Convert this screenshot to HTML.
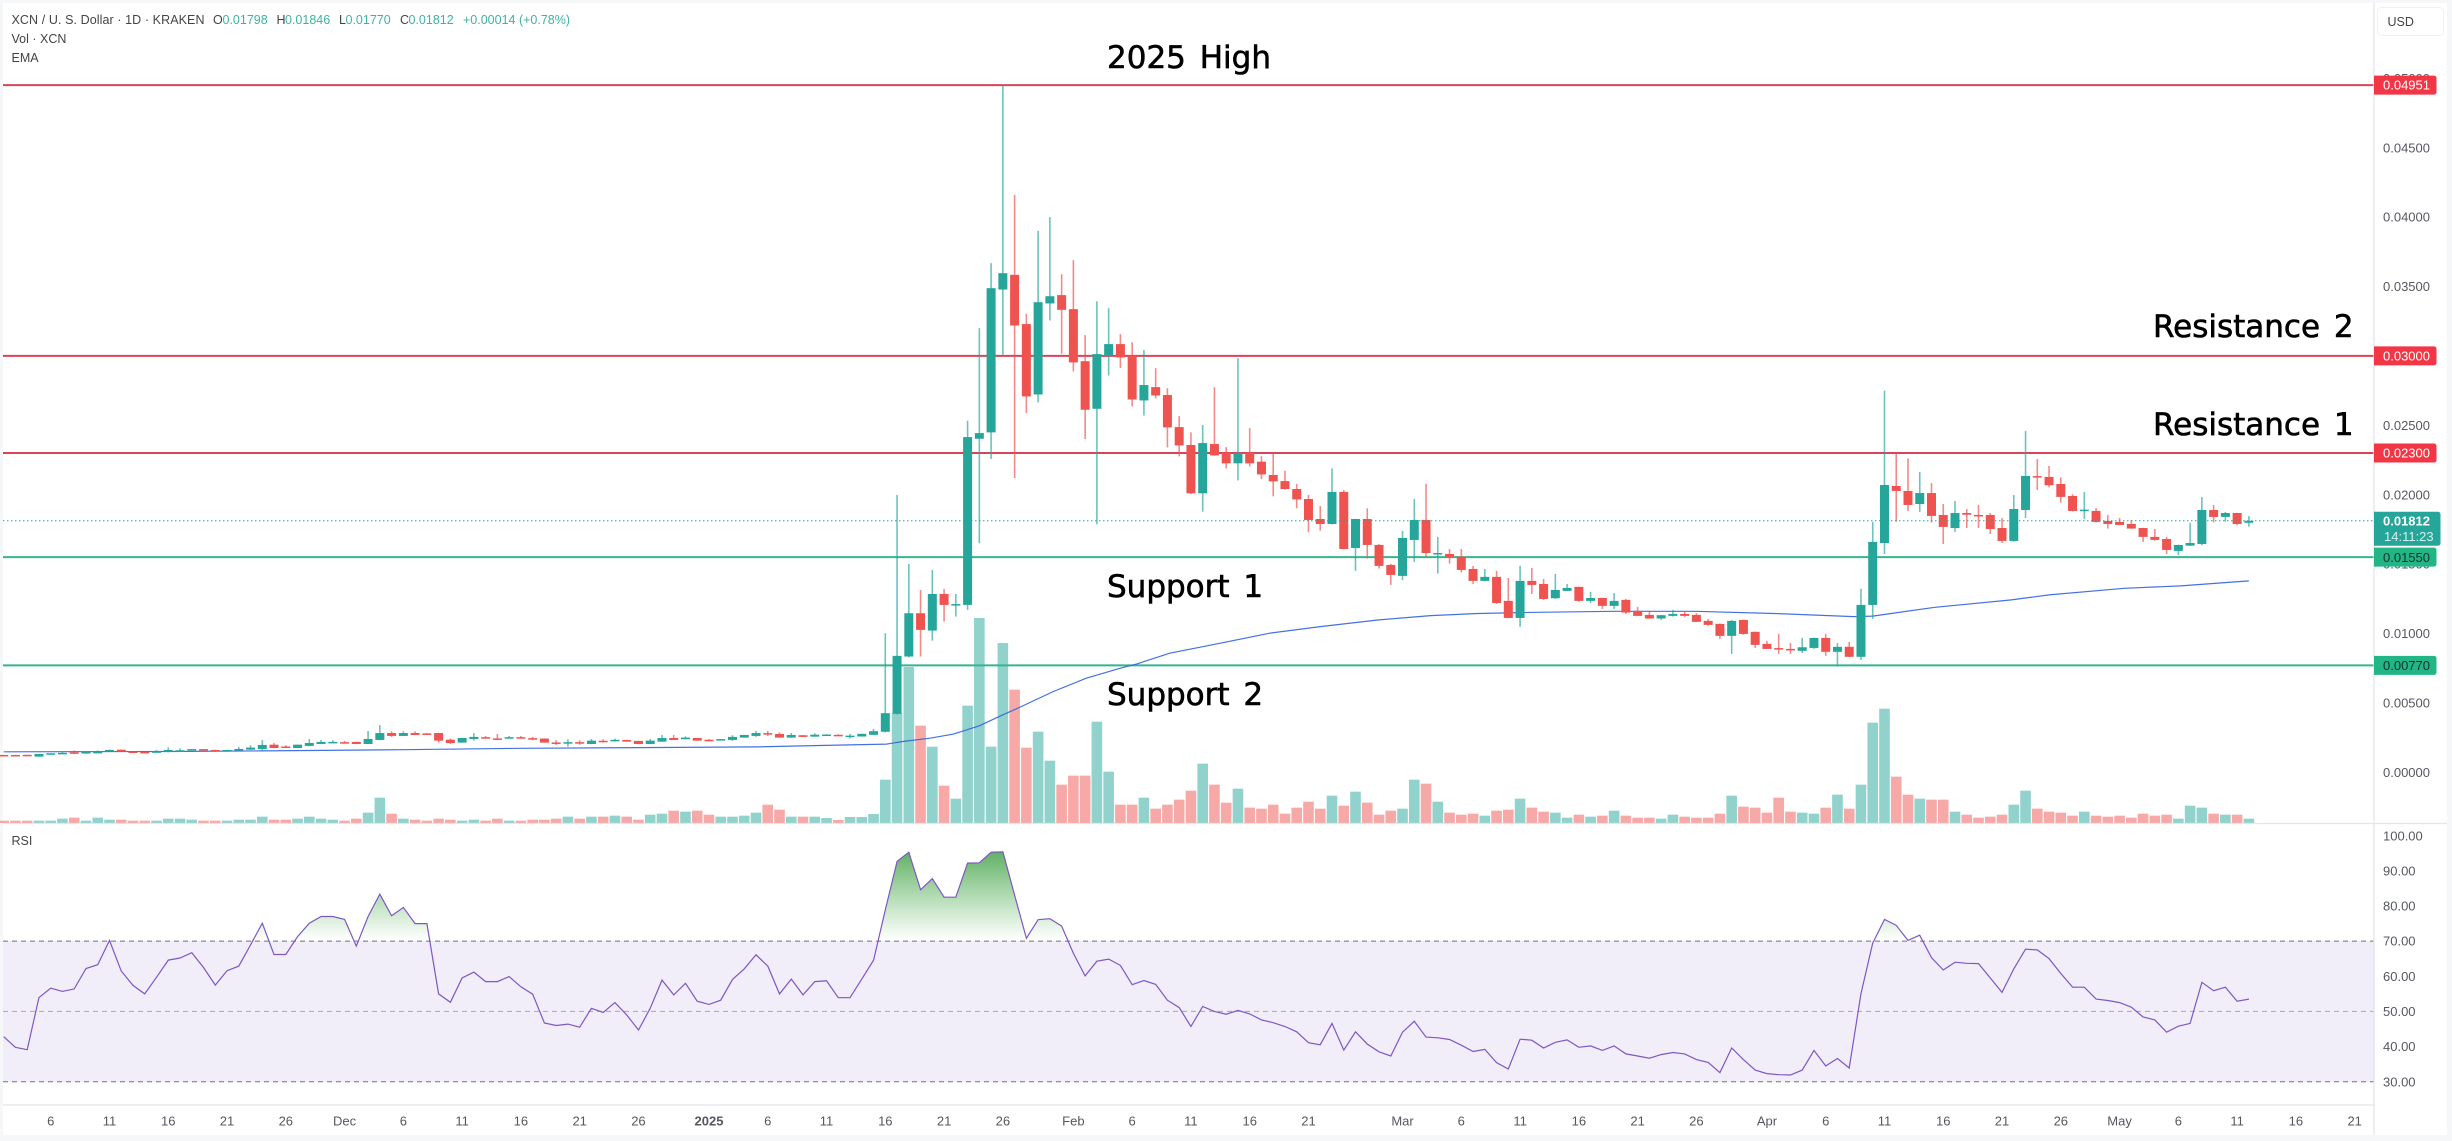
<!DOCTYPE html>
<html lang="en">
<head>
<meta charset="utf-8">
<title>XCN / U.S. Dollar chart</title>
<style>
html,body{margin:0;padding:0;background:#f6f7f9;width:2452px;height:1141px;overflow:hidden}
svg{display:block;font-family:"Liberation Sans",sans-serif}
.note{font-family:"DejaVu Sans",sans-serif;font-size:31px;fill:#000;stroke:#000;stroke-width:.6px;word-spacing:4px}
.leg{font-size:12.5px;fill:#444}
.val{font-size:12.5px;fill:#3fb2a3}
.tick{font-size:13px;fill:#55585f}
</style>
</head>
<body>
<svg id="chart" xmlns="http://www.w3.org/2000/svg" width="2452" height="1141" viewBox="0 0 2452 1141">
  <defs>
    <linearGradient id="obGrad" gradientUnits="userSpaceOnUse" x1="0" y1="836" x2="0" y2="940">
      <stop offset="0" stop-color="#43a047" stop-opacity="1"/>
      <stop offset="1" stop-color="#4caf50" stop-opacity="0"/>
    </linearGradient>
    <clipPath id="obClip"><rect x="3" y="824" width="2371" height="116.3"/></clipPath>
  </defs>
  <rect x="3" y="3" width="2444" height="1132" fill="#ffffff"/>
  <g id="volumeLayer"></g>
  <g id="levelLayer"></g>
  <path id="emaLine" fill="none" stroke="#2f62e0" stroke-width="1.2" stroke-opacity=".9"/>
  <g id="candleLayer"></g>
  <line id="lastLine" x1="3" x2="2374" stroke="#26a69a" stroke-width="1" stroke-dasharray="1.5 2.5"/>
  <g>
    <text class="leg" x="11.5" y="24" textLength="193">XCN / U. S. Dollar · 1D · KRAKEN</text>
    <text class="leg" x="213" y="24">O</text>
    <text class="val" x="222.5" y="24">0.01798</text>
    <text class="leg" x="276.5" y="24">H</text>
    <text class="val" x="285" y="24">0.01846</text>
    <text class="leg" x="339" y="24">L</text>
    <text class="val" x="345.5" y="24">0.01770</text>
    <text class="leg" x="400" y="24">C</text>
    <text class="val" x="408.5" y="24">0.01812</text>
    <text class="val" x="463" y="24">+0.00014 (+0.78%)</text>
    <text class="leg" x="11.5" y="43">Vol · XCN</text>
    <text class="leg" x="11.5" y="62">EMA</text>
  </g>
  <text class="note" x="1107" y="68">2025 High</text>
  <text class="note" x="2153" y="337">Resistance 2</text>
  <text class="note" x="2153" y="435">Resistance 1</text>
  <text class="note" x="1107" y="597">Support 1</text>
  <text class="note" x="1107" y="705">Support 2</text>

  <g>
    <rect id="rsiBand" x="3" width="2371" fill="#f2eef9"/>
    <line id="rsi70" x1="3" x2="2374" stroke="#6f727c" stroke-width="1" stroke-dasharray="5 4"/>
    <line id="rsi50" x1="3" x2="2374" stroke="#a8a6b0" stroke-width="1" stroke-dasharray="5 4"/>
    <line id="rsi30" x1="3" x2="2374" stroke="#6f727c" stroke-width="1" stroke-dasharray="5 4"/>
    <path id="rsiFill" fill="url(#obGrad)" clip-path="url(#obClip)"/>
    <path id="rsiLine" fill="none" stroke="#7e57c2" stroke-width="1.2"/>
    <text class="leg" x="11.5" y="845">RSI</text>
  </g>

  <g>
    <line x1="2374" x2="2374" y1="3" y2="1135" stroke="#e0e3eb" stroke-width="1.2"/>
    <line x1="3" x2="2447" y1="823.5" y2="823.5" stroke="#e4e6ec" stroke-width="1.2"/>
    <line x1="3" x2="2374" y1="1105" y2="1105" stroke="#e0e3eb" stroke-width="1.2"/>
  </g>
  <g id="priceAxis"></g>
  <g id="rsiAxis"></g>
  <g id="timeAxis"></g>
  <g id="tagLayer"></g>
  <g>
    <path id="lastTagBox" fill="#26a69a"/>
    <text id="lastTagValue" x="2383" font-size="13" font-weight="bold" fill="#ffffff">0.01812</text>
    <text id="lastTagTime" x="2384" font-size="13" fill="#d5f0ec">14:11:23</text>
  </g>
  <g>
    <rect x="2377.5" y="7.5" width="66" height="28" rx="4" fill="#fff" stroke="#f0f1f4"/>
    <text x="2387.5" y="26" font-size="12.5" fill="#444">USD</text>
  </g>
</svg>
<script>
// Daily candles start on 2 Nov 2024 (day index -4 relative to 6 Nov). Prices in units of 0.00001 USD.
const firstDay = -4;
const opens = [
125,125,126,113,135,137,144,135,144,149,
163,150,147,148,149,149,165,167,161,149,
165,163,168,199,186,175,190,204,217,217,
219,204,233,283,262,283,280,283,235,214,
240,253,244,251,253,246,243,215,215,217,
204,227,232,233,226,204,221,247,238,247,
234,237,233,250,262,282,276,250,267,257,
269,270,262,258,270,292,421,834,1146,1021,
1285,1208,1206,2403,2449,3478,3584,3229,2722,3378,
3438,3337,2962,2619,3001,3085,3001,2679,2775,2718,
2487,2358,2010,2365,2302,2226,2302,2238,2142,2098,
2041,1969,1825,1789,2020,1616,1825,1638,1494,1415,
1674,1818,1576,1573,1554,1465,1379,1408,1235,1112,
1379,1357,1254,1307,1336,1235,1256,1199,1242,1163,
1134,1108,1127,1141,1134,1091,1069,983,1098,1012,
925,895,889,875,896,968,868,904,832,1206,
1652,2063,2027,1933,2012,1854,1760,1868,1854,1854,
1760,1667,1890,2134,2128,2077,1991,1888,1883,1811,
1804,1789,1760,1696,1681,1595,1633,1645,1890,1840,
1868,1798];
const highs = [
126,126,127,133,137,151,158,150,159,163,
164,151,148,161,180,173,168,168,163,163,
183,195,233,211,195,200,240,233,231,226,
220,298,341,295,295,295,283,284,243,248,
283,262,276,262,262,255,244,231,238,231,
240,238,243,234,227,240,269,269,259,248,
240,240,267,270,298,298,288,283,268,281,
275,274,277,278,313,1002,1998,1501,1314,1458,
1321,1285,2533,3200,3668,4951,4160,3303,3901,4000,
3589,3690,3150,3394,3344,3157,3099,3042,2912,2768,
2566,2449,2502,2775,2343,2984,2480,2278,2300,2173,
2077,1998,1919,2190,2034,1827,1902,1645,1501,1739,
1969,2077,1696,1609,1609,1487,1465,1451,1400,1487,
1472,1393,1429,1357,1338,1300,1258,1292,1249,1192,
1163,1134,1170,1156,1146,1105,1072,1098,1100,1014,
947,997,932,968,970,997,932,940,1321,1804,
2750,2298,2262,2164,2084,1933,1955,1897,1926,1868,
1832,1998,2459,2257,2207,2125,2003,2020,1904,1854,
1832,1818,1762,1753,1696,1640,1796,1984,1926,1876,
1870,1846];
const lows = [
124,124,124,112,134,132,132,134,139,148,
148,147,143,144,144,148,164,164,148,148,
161,161,156,173,178,174,188,203,216,209,
203,203,232,255,261,268,277,214,204,213,
228,243,241,243,243,231,213,197,185,199,
203,216,221,220,203,203,220,232,237,227,
226,236,226,249,255,262,249,249,254,256,
268,265,244,257,268,287,416,827,834,949,
1086,1122,1170,1650,2257,3008,2120,2588,2665,3255,
3015,2888,2401,1787,2859,2912,2636,2571,2694,2341,
2276,2004,1878,2281,2190,2103,2204,2113,1988,2036,
1902,1729,1741,1785,1605,1451,1540,1468,1350,1386,
1516,1554,1432,1504,1439,1357,1377,1213,1110,1048,
1285,1242,1249,1305,1228,1220,1177,1177,1141,1125,
1106,1098,1122,1120,1082,1055,961,853,990,896,
887,853,853,860,889,839,762,830,810,1105,
1573,1804,1883,1876,1799,1645,1732,1760,1760,1717,
1652,1660,1832,2034,2053,1943,1878,1825,1799,1756,
1780,1754,1660,1669,1573,1566,1631,1636,1801,1806,
1780,1770];
const closes = [
124,124,125,132,137,140,137,149,147,161,
149,148,144,151,161,159,167,165,149,161,
168,178,197,175,184,199,211,219,219,215,
204,240,283,262,283,269,278,228,211,247,
255,251,242,253,251,244,214,213,217,215,
228,225,234,221,204,228,247,233,250,228,
232,239,255,269,283,280,250,269,255,271,
272,266,264,277,296,426,839,1146,1026,1285,
1206,1212,2415,2444,3488,3596,3219,2708,3387,3430,
3332,2953,2612,3013,3085,2989,2686,2790,2715,2485,
2355,2010,2372,2283,2226,2300,2226,2146,2096,2041,
1966,1818,1789,2020,1609,1825,1638,1487,1422,1688,
1818,1580,1580,1549,1458,1379,1408,1220,1112,1379,
1350,1249,1314,1328,1235,1256,1199,1235,1151,1127,
1108,1132,1141,1127,1084,1062,983,1091,997,918,
889,891,885,901,968,868,904,832,1206,1660,
2070,2027,1926,2012,1847,1768,1868,1856,1850,1753,
1667,1897,2135,2130,2068,1984,1883,1892,1804,1789,
1782,1756,1696,1674,1602,1638,1652,1890,1840,1868,
1789,1812];
// Volume in relative units.
const volumes = [
7,7,7,7,7,13,16,7,16,10,
10,7,7,7,13,13,10,7,7,7,
10,10,19,10,10,13,19,13,10,7,
13,31,76,28,13,10,7,13,10,7,
10,7,13,7,7,10,10,13,19,13,
19,19,22,19,10,25,28,37,34,37,
25,19,19,22,31,55,40,19,19,19,
15,9,18,18,27,130,330,468,292,229,
112,73,352,615,229,540,400,226,274,187,
115,142,142,304,154,55,55,76,43,55,
70,97,178,115,61,103,46,43,55,28,
46,64,43,82,52,94,61,25,37,43,
130,118,64,31,25,28,22,37,40,73,
46,34,31,16,25,19,22,37,22,16,
16,13,25,19,16,16,28,82,49,46,
31,76,34,31,28,46,85,43,115,301,
343,139,85,73,70,70,34,25,16,19,
25,55,97,43,34,31,22,34,22,19,
22,16,28,22,25,13,52,46,28,25,
25,13];
const rsiValues = [
42.8,39.8,39.1,53.9,56.6,55.7,56.4,62.2,63.3,70.2,
61.5,57.4,55,59.7,64.6,65.2,66.7,62.5,57.5,61.6,
62.9,68.9,75.1,66.2,66.2,71.3,75.1,77,77,76.2,
68.6,77,83.4,77.2,79.6,75,75,55,52.6,59.5,
61.2,58.5,58.5,59.9,57,54.9,46.7,46,46.4,45.5,
50.9,49.7,52.5,49,44.7,50.9,58.9,54.7,58,52.9,
52,53.2,59.1,62.1,66.1,62.9,55,59.2,54.7,58.5,
58.7,53.9,53.9,59.2,64.6,78.9,92.7,95.3,84.6,87.8,
82.5,82.5,92.2,92.3,95.3,95.4,83.1,70.8,76.1,76.4,
74.3,66.5,60.1,64.3,64.9,63.1,57.6,58.8,57.7,53.2,
51.1,45.7,51.4,50,49.2,50.3,49.3,47.6,46.8,45.7,
44.2,41.1,40.5,46.6,39,44.2,40.7,38.5,37.3,44.1,
47.2,42.7,42.5,42,40.4,38.6,39.2,35.4,33.6,42.1,
41.8,39.6,41.2,41.9,39.8,40.2,38.9,40.2,37.9,37.3,
36.7,37.7,38.3,37.9,36.3,35.5,32.6,39.6,36.3,33.3,
32.3,32,31.9,33.3,38.9,34.5,36.6,33.9,55.1,69.4,
76.2,74.5,70.2,71.7,65.3,61.8,64,63.7,63.6,59.5,
55.4,62.1,67.7,67.5,65,60.8,56.9,56.9,53.5,53.1,
52.5,51.2,48.4,47.6,44.1,45.8,46.6,58.3,55.9,56.9,
52.9,53.5];
// EMA vertices: day index and value.
const emaDays = [-4,10,18,30,40,50,60,65.4,71.1,72.5,74.8,76.8,79,81,82.4,85.3,88.1,91,92.4,95.2,99.5,103.7,108,113,117.4,121.4,126.4,133,139.9,146.6,153.4,155,160.3,166.8,170,176.4,181.2,187];
const emaValues = [148,150,154,163,173,178,183,193,203,222,246,275,335,414,467,582,678,750,781,858,930,1002,1050,1098,1129,1144,1153,1160,1160,1144,1122,1125,1189,1242,1278,1326,1343,1379];
// Horizontal levels.
const levelValues = [4951,3000,2300,1550,770];
const levelLabels = ["0.04951","0.03000","0.02300","0.01550","0.00770"];
const levelKinds = ["red","red","red","green","green"];
const lastPrice = 1812;
// Axis ticks.
const priceTickValues = [5000,4500,4000,3500,3000,2500,2000,1500,1000,500,0];
const priceTickLabels = ["0.05000","0.04500","0.04000","0.03500","0.03000","0.02500","0.02000","0.01500","0.01000","0.00500","0.00000"];
const rsiTickValues = [100,90,80,70,60,50,40,30];
const rsiTickLabels = ["100.00","90.00","80.00","70.00","60.00","50.00","40.00","30.00"];
const timeTickDays = [0,5,10,15,20,25,30,35,40,45,50,56,61,66,71,76,81,87,92,97,102,107,115,120,125,130,135,140,146,151,156,161,166,171,176,181,186,191,196];
const timeTickLabels = ["6","11","16","21","26","Dec","6","11","16","21","26","2025","6","11","16","21","26","Feb","6","11","16","21","Mar","6","11","16","21","26","Apr","6","11","16","21","26","May","6","11","16","21"];

const NS = "http://www.w3.org/2000/svg";
function xAt(day){ return 50.7 + 11.755 * day; }
function yPrice(u){ return 772.3 - 0.1388 * u; }
function yRsi(r){ return 1081.7 - (r - 30) * 3.514; }
function volH(v){ return v / 3; }
function make(parent, tag, attrs, text){
  const el = document.createElementNS(NS, tag);
  for (const k in attrs) el.setAttribute(k, attrs[k]);
  if (text !== undefined) el.textContent = text;
  parent.appendChild(el);
  return el;
}
const GREEN = "#26a69a", RED = "#ef5350";
const volumeLayer = document.getElementById("volumeLayer");
const candleLayer = document.getElementById("candleLayer");
const levelLayer = document.getElementById("levelLayer");
const tagLayer = document.getElementById("tagLayer");
const priceAxis = document.getElementById("priceAxis");
const rsiAxis = document.getElementById("rsiAxis");
const timeAxis = document.getElementById("timeAxis");

closes.forEach(function(c, i){
  const day = firstDay + i, x = xAt(day), up = c >= opens[i];
  const col = up ? GREEN : RED;
  const vh = volH(volumes[i]);
  const bar = make(volumeLayer, "rect", {x: x - 5.3, y: 823 - vh, width: 10.6, height: vh, fill: col, "fill-opacity": .5});
  
  
  const wick = make(candleLayer, "line", {x1: x, x2: x, y1: yPrice(highs[i]), y2: yPrice(lows[i]), stroke: col, "stroke-width": 1.6, "stroke-opacity": .68});
  
  
  const yT = yPrice(Math.max(opens[i], c)), yB = yPrice(Math.min(opens[i], c));
  const body = make(candleLayer, "rect", {x: x - 4.5, y: yT, width: 9, height: Math.max(1.5, yB - yT), fill: col});
  
  
});

levelValues.forEach(function(v, i){
  const y = yPrice(v), red = levelKinds[i] === "red";
  const ln = make(levelLayer, "line", {x1: 3, x2: 2374, y1: y, y2: y, stroke: red ? "#d9445a" : "#35b58f", "stroke-width": 2});
  
  
  const tag = make(tagLayer, "path", {d: "M2374 " + (y-9.5) + "h60a2.5 2.5 0 0 1 2.5 2.5v14a2.5 2.5 0 0 1 -2.5 2.5h-60z", fill: red ? "#f23645" : "#22b585"});
  
  
  const tx = make(tagLayer, "text", {x: 2383, y: y + 4.6, "font-size": 13, fill: red ? "#ffffff" : "#10352b"}, levelLabels[i]);
  
  
});

document.getElementById("emaLine").setAttribute("d", emaDays.map(function(d, i){
  return (i ? "L" : "M") + xAt(d).toFixed(1) + " " + yPrice(emaValues[i]).toFixed(1);
}).join(""));

const yLast = yPrice(lastPrice);
const lastLine = document.getElementById("lastLine");
lastLine.setAttribute("y1", yLast);
lastLine.setAttribute("y2", yLast);
document.getElementById("lastTagBox").setAttribute("d", "M2374 " + (yLast-9) + "h64a2.5 2.5 0 0 1 2.5 2.5v29a2.5 2.5 0 0 1 -2.5 2.5h-64z");
document.getElementById("lastTagValue").setAttribute("y", yLast + 4.6);
document.getElementById("lastTagTime").setAttribute("y", yLast + 20.4);

const rsiBand = document.getElementById("rsiBand");
rsiBand.setAttribute("y", yRsi(70));
rsiBand.setAttribute("height", yRsi(30) - yRsi(70));
[["rsi70",70],["rsi50",50],["rsi30",30]].forEach(function(p){
  const l = document.getElementById(p[0]);
  l.setAttribute("y1", yRsi(p[1]));
  l.setAttribute("y2", yRsi(p[1]));
});
const rsiPts = rsiValues.map(function(r, i){
  return xAt(firstDay + i).toFixed(1) + " " + yRsi(r).toFixed(1);
});
document.getElementById("rsiLine").setAttribute("d", "M" + rsiPts.join("L"));
document.getElementById("rsiFill").setAttribute("d", "M" + xAt(firstDay).toFixed(1) + " " + yRsi(70) + "L" + rsiPts.join("L") + "L" + xAt(firstDay + rsiValues.length - 1).toFixed(1) + " " + yRsi(70) + "Z");

priceTickValues.forEach(function(v, i){
  const t = make(priceAxis, "text", {class: "tick", x: 2383, y: yPrice(v) + 4.6}, priceTickLabels[i]);
  
  
});
rsiTickValues.forEach(function(v, i){
  const t = make(rsiAxis, "text", {class: "tick", x: 2383, y: yRsi(v) + 4.6}, rsiTickLabels[i]);
  
  
});
timeTickDays.forEach(function(d, i){
  const bold = timeTickLabels[i] === "2025";
  const t = make(timeAxis, "text", {class: "tick", x: xAt(d), y: 1125.5, "text-anchor": "middle", "font-weight": bold ? "bold" : "normal"}, timeTickLabels[i]);
  
  
});
</script>
</body>
</html>
